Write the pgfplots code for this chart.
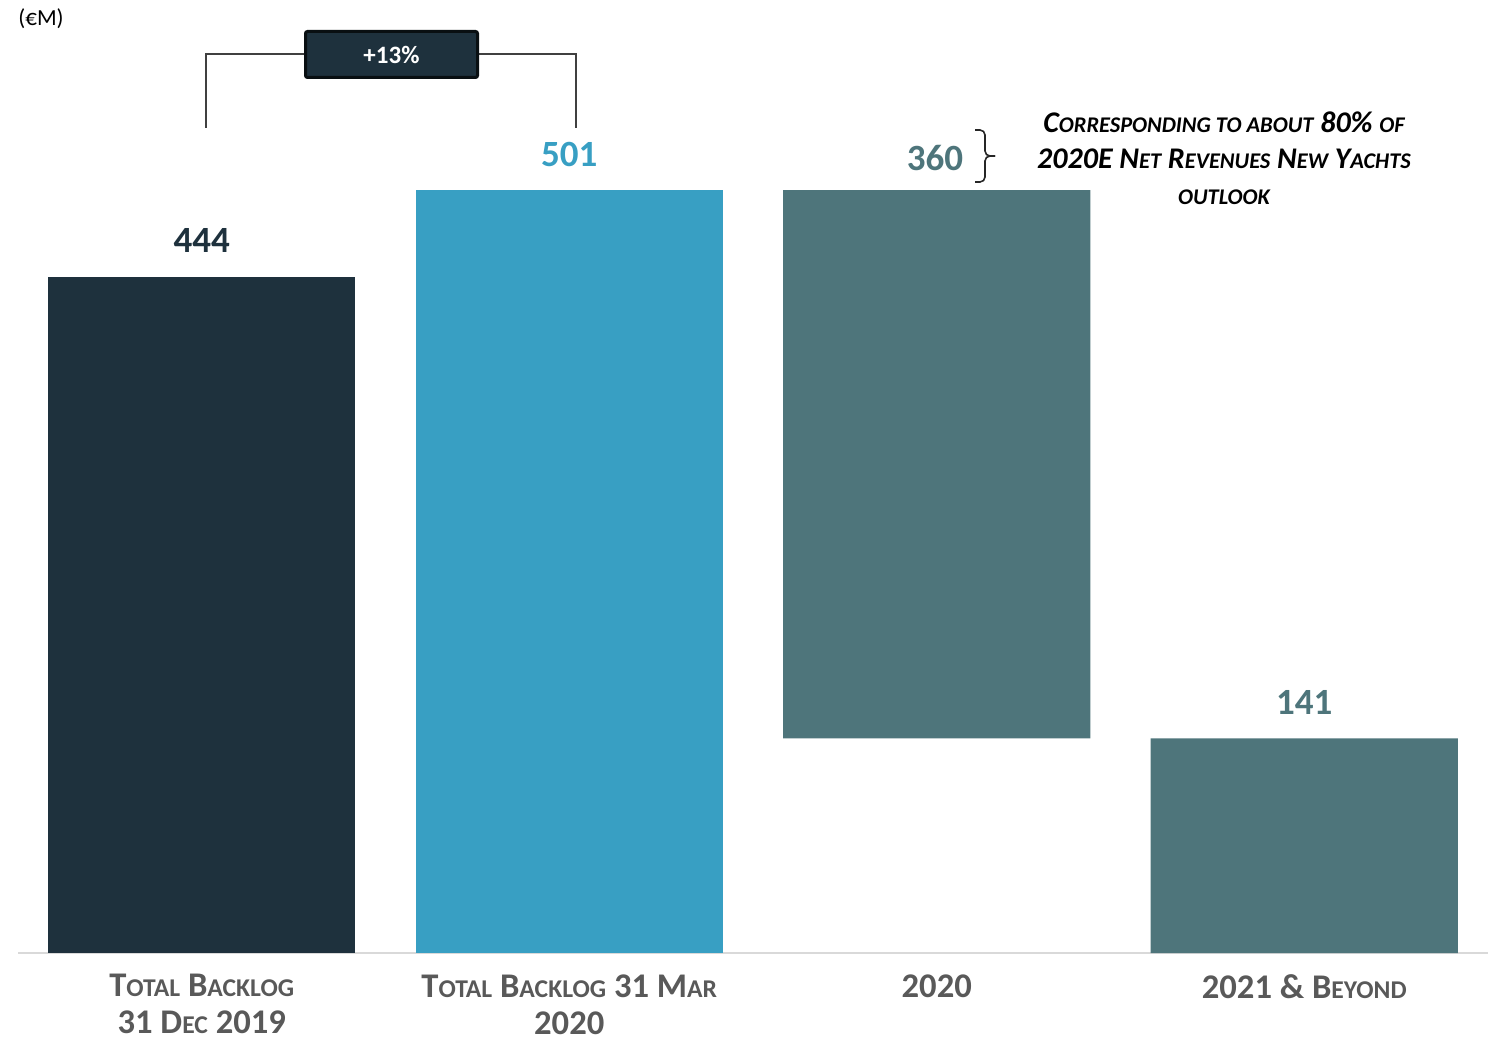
\documentclass[border=0pt]{standalone}
\usepackage{pgfplots}
\pgfplotsset{compat=1.18}
\usepackage{fontspec}
\setmainfont{Carlito}

\definecolor{navy}{HTML}{1E313D}
\definecolor{skyblue}{HTML}{389FC3}
\definecolor{tealbar}{HTML}{4E757B}
\definecolor{labgray}{HTML}{595959}
\definecolor{axgray}{HTML}{D9D9D9}

% fake small caps: smaller upper-case letters
\newcommand\sm[1]{{\fontsize{12.8}{18.5}\selectfont #1}}
\newcommand\smn[1]{{\fontsize{11.2}{18}\selectfont #1}}

\begin{document}
\begin{tikzpicture}
\useasboundingbox (-9pt,-43.5pt) rectangle (735pt,476.5pt);
\begin{axis}[
  at={(0,0)}, anchor=south west,
  scale only axis,
  width=735pt, height=381.5pt,
  xmin=-0.5, xmax=3.5,
  ymin=0, ymax=501,
  ybar stacked, bar width=0.836,
  axis x line=bottom, axis y line=none,
  x axis line style={-, draw=axgray, line width=1pt},
  ytick=\empty,
  xtick={0,1,2,3},
  major tick length=0pt,
  xticklabels={
    {T\sm{OTAL} B\sm{ACKLOG}\\31 D\sm{EC} 2019},
    {T\sm{OTAL} B\sm{ACKLOG} 31 M\sm{AR}\\2020},
    {2020},
    {2021 \& B\sm{EYOND}}},
  xticklabel style={font=\fontsize{17.3}{18.5}\selectfont\bfseries, text=labgray,
    align=center, anchor=north, inner sep=0pt, yshift=-10.5pt},
  enlargelimits=false,
  clip=false,
]
% invisible base for the floating 2020 bar
\addplot[draw=none, fill=none] coordinates {(0,0) (1,0) (2,141) (3,0)};
\addplot[draw=none, fill=navy] coordinates {(0,444) (1,0) (2,0) (3,0)};
\addplot[draw=none, fill=skyblue] coordinates {(0,0) (1,501) (2,0) (3,0)};
\addplot[draw=none, fill=tealbar] coordinates {(0,0) (1,0) (2,360) (3,141)};

\node[anchor=base, inner sep=0pt, font=\fontsize{18.5}{20}\selectfont\bfseries, text=navy]
  at ([yshift=12pt]axis cs:0,444) {444};
\node[anchor=base, inner sep=0pt, font=\fontsize{18.5}{20}\selectfont\bfseries, text=skyblue]
  at ([yshift=12pt]axis cs:1,501) {501};
\node[anchor=base, inner sep=0pt, font=\fontsize{18.5}{20}\selectfont\bfseries, text=tealbar]
  at ([yshift=10pt]axis cs:1.995,501) {360};
\node[anchor=base, inner sep=0pt, font=\fontsize{18.5}{20}\selectfont\bfseries, text=tealbar]
  at ([yshift=12pt]axis cs:3,141) {141};
\end{axis}

% (EUR M) unit
\node[anchor=west, inner sep=0pt, font=\fontsize{11.5}{13}\selectfont] at (0pt,467pt) {(€M)};

% +13% bracket
\draw[black!75, line width=0.8pt] (94pt,412.5pt) |- (143.5pt,449.5pt);
\draw[black!75, line width=0.8pt] (279pt,412.5pt) |- (230pt,449.5pt);
\node[draw=black!70!navy, fill=navy, line width=1.5pt, rounded corners=1pt,
  minimum width=86pt, minimum height=23pt, inner sep=0pt,
  text=white, font=\fontsize{12.5}{14}\selectfont\bfseries] at (186.75pt,449.25pt) {+13\%};

% brace and comment
\draw[black!85, line width=0.8pt, rounded corners=2.5pt]
  (478.5pt,411.5pt) -- (483.5pt,411.5pt) -- (483.5pt,398.5pt) -- (488.5pt,398.5pt);
\draw[black!85, line width=0.8pt, rounded corners=2.5pt]
  (478.5pt,385.5pt) -- (483.5pt,385.5pt) -- (483.5pt,398.5pt) -- (488.5pt,398.5pt);
\node[align=center, inner sep=0pt, font=\fontsize{15}{18}\selectfont\bfseries\itshape]
  at (603pt,397.5pt)
  {C\smn{ORRESPONDING TO ABOUT} 80\% \smn{OF}\\
   2020E N\smn{ET} R\smn{EVENUES} N\smn{EW} Y\smn{ACHTS}\\
   \smn{OUTLOOK}};
\end{tikzpicture}
\end{document}
